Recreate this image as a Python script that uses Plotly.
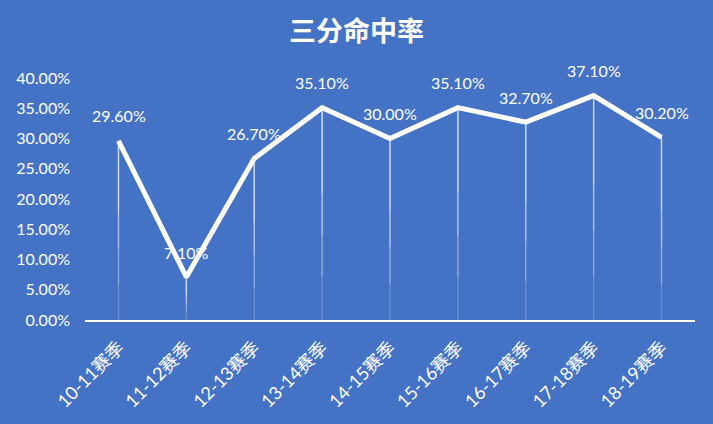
import plotly.graph_objects as go

seasons = ["10-11赛季", "11-12赛季", "12-13赛季", "13-14赛季", "14-15赛季",
           "15-16赛季", "16-17赛季", "17-18赛季", "18-19赛季"]
pct = [0.296, 0.071, 0.267, 0.351, 0.300, 0.351, 0.327, 0.371, 0.302]
pct_text = ["29.60%", "7.10%", "26.70%", "35.10%", "30.00%",
            "35.10%", "32.70%", "37.10%", "30.20%"]

bg = "#4472C4"
font_family = "Lato, Noto Sans CJK SC, sans-serif"

fig = go.Figure()

# drop lines, layered so they fade out toward the axis
for frac, alpha in [(1.0, 0.2), (0.8, 0.25), (0.6, 0.3), (0.4, 0.35)]:
    fig.add_trace(go.Scatter(
        x=seasons, y=pct, mode="markers",
        marker=dict(size=1, color="rgba(0,0,0,0)"),
        error_y=dict(type="data", symmetric=False,
                     array=[0] * len(pct),
                     arrayminus=[v * frac for v in pct],
                     color=f"rgba(255,255,255,{alpha})", thickness=1.4, width=0),
        hoverinfo="skip", showlegend=False,
    ))

fig.add_trace(go.Scatter(
    x=seasons, y=pct, mode="lines",
    line=dict(color="white", width=5),
    showlegend=False,
))

for s, v, t in zip(seasons, pct, pct_text):
    fig.add_annotation(x=s, y=v, text=t, showarrow=False, yshift=25,
                       font=dict(color="white", size=16, family=font_family))

fig.update_layout(
    width=713, height=424,
    paper_bgcolor=bg, plot_bgcolor=bg,
    margin=dict(l=85, r=18, t=78, b=102),
    title=dict(text="<b>三分命中率</b>", x=0.5, xanchor="center", y=0.925, yanchor="middle",
               font=dict(color="white", size=27, family="Noto Sans CJK SC")),
    font=dict(family=font_family, color="white", size=16),
)
fig.update_xaxes(showgrid=False, showline=True, linecolor="white", linewidth=2,
                 tickangle=-45, ticks="", zeroline=False, ticklabelstandoff=8,
                 tickfont=dict(size=18, color="white", family=font_family))
fig.update_yaxes(range=[0, 0.4], dtick=0.05, tickformat=".2%", showgrid=False,
                 zeroline=False, showline=False, ticks="", ticklabelstandoff=14,
                 tickfont=dict(size=16, color="white", family=font_family))

fig.write_html("out.html", config={"displayModeBar": False},
               post_script="document.body.style.margin='0';")
